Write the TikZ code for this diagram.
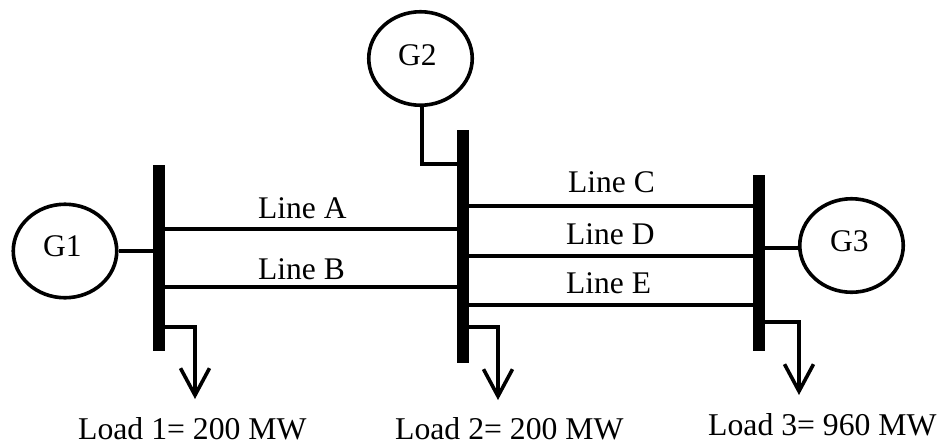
\documentclass[tikz,border=0pt]{standalone}
\usepackage{fontspec}
\setmainfont{Liberation Serif}
\usetikzlibrary{arrows.meta,shapes.geometric}
\tikzset{
  gen/.style={draw,ellipse,line width=3.6pt,minimum width=103.5pt,minimum height=93.5pt,inner sep=0pt},
  busbar/.style={fill=black,draw=none,rectangle,inner sep=0pt,minimum width=12pt},
  wire/.style={line width=3.6pt},
  loadwire/.style={line width=3.2pt,-{Straight Barb[length=27pt,width=29pt,line width=3.6pt]}},
  lbl/.style={anchor=base west,inner sep=0pt,font=\fontsize{31.5pt}{34pt}\selectfont},
  loadlbl/.style={lbl,font=\fontsize{31.7pt}{34pt}\selectfont}
}
\begin{document}
\begin{tikzpicture}[x=1pt,y=-1pt]
\useasboundingbox (0,0) rectangle (942,445);
% generators
\node[gen] (g1) at (65,251) {};
\node[gen] (g2) at (420.5,58.5) {};
\node[gen] (g3) at (851.5,245.5) {};
% busbars
\node[busbar,minimum height=186pt] (bus1) at (159,258) {};
\node[busbar,minimum height=233pt] (bus2) at (463,246.5) {};
\node[busbar,minimum height=176pt] (bus3) at (759,263) {};
% load end points
\coordinate (l1) at (195,399);
\coordinate (l2) at (498,400);
\coordinate (l3) at (799,395);
% generator connections
\draw[wire] (g1.east |- 0,251) -- (bus1.west |- 0,251);
\draw[wire] (g2.south -| 422,0) -- (422,164) -- (bus2.west |- 0,164);
\draw[wire] (bus3.east |- 0,248) -- (g3.west |- 0,248);
% transmission lines
\draw[wire] (bus1.east |- 0,229) -- (bus2.west |- 0,229);
\draw[wire] (bus1.east |- 0,287) -- (bus2.west |- 0,287);
\draw[wire] (bus2.east |- 0,206) -- (bus3.west |- 0,206);
\draw[wire] (bus2.east |- 0,256) -- (bus3.west |- 0,256);
\draw[wire] (bus2.east |- 0,305) -- (bus3.west |- 0,305);
% loads
\draw[loadwire] (bus1.east |- 0,327) -| (l1);
\draw[loadwire] (bus2.east |- 0,327) -| (l2);
\draw[loadwire] (bus3.east |- 0,322) -| (l3);
% labels
\node[lbl] (tg1) at (43,256) {G1};
\node[lbl] (tg2) at (398,65) {G2};
\node[lbl] (tg3) at (830,251) {G3};
\node[lbl] (ta) at (258,218) {Line A};
\node[lbl] (tb) at (258,279) {Line B};
\node[lbl] (tc) at (568,192) {Line C};
\node[lbl] (td) at (566,244) {Line D};
\node[lbl] (te) at (566,293) {Line E};
\node[loadlbl] (t1) at (78,439) {Load 1= 200 MW};
\node[loadlbl] (t2) at (395,439) {Load 2= 200 MW};
\node[loadlbl] (t3) at (708,435) {Load 3= 960 MW};
\end{tikzpicture}
\end{document}
